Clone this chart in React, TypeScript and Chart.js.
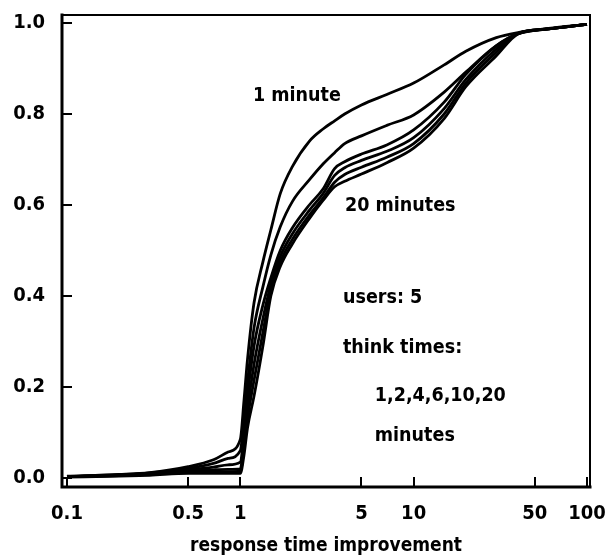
import React, { useEffect, useRef } from "react";
import { Chart, registerables } from "chart.js";

Chart.register(...registerables);

// Response-time improvement ratio (log axis) at which each cumulative fraction is read
const improvement = [
  0.1, 0.2, 0.3, 0.5, 0.7, 0.85, 1.0, 1.05, 1.1, 1.2, 1.35, 1.5, 1.7, 2.0,
  2.5, 3, 3.5, 4, 5, 7, 10, 15, 20, 30, 40, 60, 100,
];

// Cumulative fraction of requests, one series per think time
const think1 = [
  0.004, 0.008, 0.012, 0.025, 0.04, 0.057, 0.085, 0.17, 0.26, 0.385, 0.475,
  0.545, 0.625, 0.685, 0.74, 0.767, 0.785, 0.8, 0.82, 0.843, 0.868, 0.908,
  0.938, 0.968, 0.979, 0.988, 0.997,
];
const think2 = [
  0.003, 0.007, 0.011, 0.021, 0.032, 0.043, 0.06, 0.13, 0.21, 0.33, 0.42,
  0.49, 0.552, 0.608, 0.655, 0.69, 0.715, 0.735, 0.752, 0.775, 0.798, 0.848,
  0.892, 0.95, 0.976, 0.987, 0.997,
];
const think4 = [
  0.003, 0.006, 0.01, 0.018, 0.024, 0.029, 0.035, 0.1, 0.18, 0.29, 0.38,
  0.44, 0.5, 0.55, 0.6, 0.635, 0.68, 0.695, 0.712, 0.732, 0.765, 0.826,
  0.887, 0.95, 0.977, 0.987, 0.997,
];
const think6 = [
  0.003, 0.006, 0.009, 0.015, 0.018, 0.019, 0.02, 0.08, 0.15, 0.25, 0.35,
  0.425, 0.487, 0.537, 0.588, 0.625, 0.665, 0.682, 0.698, 0.718, 0.748, 0.812,
  0.876, 0.943, 0.977, 0.987, 0.997,
];
const think10 = [
  0.003, 0.005, 0.008, 0.013, 0.014, 0.014, 0.015, 0.065, 0.13, 0.215, 0.32,
  0.41, 0.475, 0.525, 0.578, 0.615, 0.65, 0.667, 0.683, 0.705, 0.735, 0.8,
  0.868, 0.936, 0.977, 0.987, 0.997,
];
const think20 = [
  0.002, 0.004, 0.006, 0.01, 0.01, 0.01, 0.01, 0.05, 0.11, 0.18, 0.29, 0.4,
  0.465, 0.515, 0.57, 0.61, 0.64, 0.652, 0.668, 0.693, 0.725, 0.79, 0.86,
  0.928, 0.976, 0.987, 0.997,
];

const seriesNames = ["1 min", "2 min", "4 min", "6 min", "10 min", "20 min"];
const seriesValues = [think1, think2, think4, think6, think10, think20];

const xTickValues = [0.1, 0.5, 1, 5, 10, 50, 100];
const yTickValues = [0, 0.2, 0.4, 0.6, 0.8, 1.0];

const xTitle = "response time improvement";

// In-plot notes, anchored at their left edge in data coordinates
const noteTexts = ["1 minute", "20 minutes", "users: 5", "think times:", "1,2,4,6,10,20", "minutes"];
const noteX = [1.184, 4.02, 3.91, 3.91, 5.97, 5.97];
const noteY = [0.84, 0.598, 0.396, 0.286, 0.18, 0.093];

const FONT_FAMILY = '"DejaVu Sans Condensed", "DejaVu Sans", sans-serif';

const framePlugin = {
  id: "frame",
  afterDatasetsDraw(chart: any) {
    const { ctx, chartArea: a, scales } = chart;
    const x = scales.x;
    const y = scales.y;
    ctx.save();
    ctx.strokeStyle = "#000";
    ctx.lineCap = "square";

    // thin top and right edges
    ctx.lineWidth = 2;
    ctx.beginPath();
    ctx.moveTo(a.left, a.top);
    ctx.lineTo(a.right, a.top);
    ctx.lineTo(a.right, a.bottom);
    ctx.stroke();

    // heavier left and bottom axes
    ctx.lineWidth = 3;
    ctx.beginPath();
    ctx.moveTo(a.left, a.top);
    ctx.lineTo(a.left, a.bottom);
    ctx.lineTo(a.right, a.bottom);
    ctx.stroke();

    // inward tick marks
    ctx.lineWidth = 2;
    ctx.lineCap = "butt";
    ctx.beginPath();
    for (const v of xTickValues) {
      const px = Math.round(x.getPixelForValue(v));
      ctx.moveTo(px, a.bottom);
      ctx.lineTo(px, a.bottom - 10);
    }
    for (const v of yTickValues) {
      const py = Math.round(y.getPixelForValue(v));
      ctx.moveTo(a.left, py);
      ctx.lineTo(a.left + 10, py);
    }
    ctx.stroke();

    // notes
    ctx.fillStyle = "#000";
    ctx.font = `bold 19.5px ${FONT_FAMILY}`;
    ctx.textAlign = "left";
    ctx.textBaseline = "middle";
    noteTexts.forEach((t, i) => {
      ctx.fillText(t, x.getPixelForValue(noteX[i]), y.getPixelForValue(noteY[i]));
    });
    ctx.restore();
  },
};

const clearPadding = (s: any) => {
  s.paddingTop = 0;
  s.paddingBottom = 0;
  s.paddingLeft = 0;
  s.paddingRight = 0;
};

export default function App() {
  const canvasRef = useRef<HTMLCanvasElement | null>(null);

  useEffect(() => {
    const canvas = canvasRef.current;
    if (!canvas) return;

    const datasets = seriesValues.map((vals, i) => ({
      label: seriesNames[i],
      data: improvement.map((xv, j) => ({ x: xv, y: vals[j] })),
      borderColor: "#000",
      backgroundColor: "#000",
      borderWidth: 2.8,
      pointRadius: 0,
      fill: false,
      cubicInterpolationMode: "monotone" as const,
    }));

    const tickFont = { family: FONT_FAMILY, size: 20, weight: "bold" as const };

    const chart = new Chart(canvas, {
      type: "line",
      data: { datasets },
      options: {
        animation: false,
        responsive: false,
        devicePixelRatio: 1,
        layout: { padding: { top: 15, right: 16, left: 0, bottom: 0 } },
        plugins: {
          legend: { display: false },
          tooltip: { enabled: false },
        },
        scales: {
          x: {
            type: "logarithmic",
            min: 0.0936,
            max: 104.1,
            grid: { display: false, drawTicks: false },
            border: { display: false },
            afterBuildTicks: (s: any) => {
              s.ticks = xTickValues.map((v) => ({ value: v }));
            },
            afterFit: (s: any) => {
              s.height = 68;
              clearPadding(s);
            },
            ticks: {
              autoSkip: false,
              maxRotation: 0,
              padding: 15,
              color: "#000",
              font: tickFont,
              callback: (v: any) => String(v),
            },
            title: {
              display: true,
              text: xTitle,
              color: "#000",
              font: { family: FONT_FAMILY, size: 19, weight: "bold", lineHeight: 1 },
              padding: { top: 0, bottom: -1 },
            },
          },
          y: {
            type: "linear",
            min: -0.0198,
            max: 1.0176,
            grid: { display: false, drawTicks: false },
            border: { display: false },
            afterBuildTicks: (s: any) => {
              s.ticks = yTickValues.map((v) => ({ value: v }));
            },
            afterFit: (s: any) => {
              s.width = 62;
              clearPadding(s);
            },
            ticks: {
              padding: 17,
              color: "#000",
              font: tickFont,
              callback: (v: any) => Number(v).toFixed(1),
            },
          },
        },
      },
      plugins: [framePlugin],
    });

    return () => chart.destroy();
  }, []);

  return (
    <div style={{ position: "fixed", left: 0, top: 0, width: 606, height: 555, background: "#fff" }}>
      <canvas ref={canvasRef} width={606} height={555} />
    </div>
  );
}
